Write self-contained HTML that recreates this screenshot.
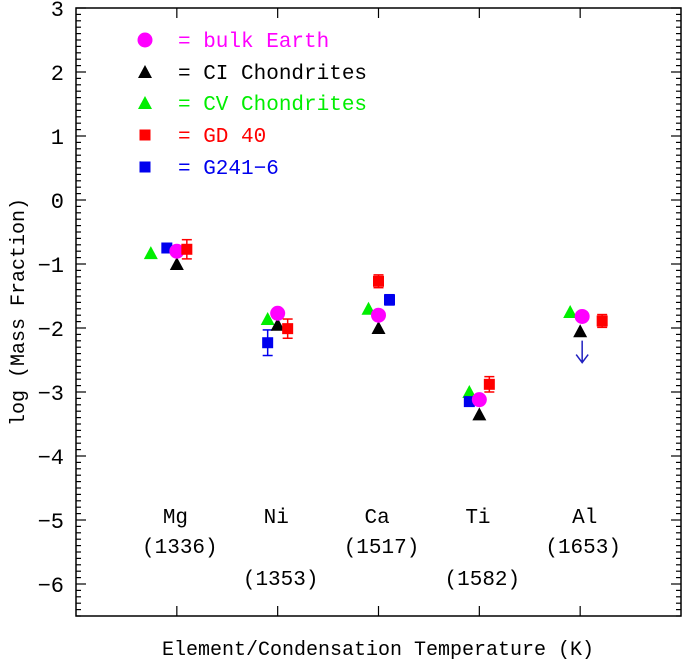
<!DOCTYPE html>
<html><head><meta charset="utf-8"><style>
html,body{margin:0;padding:0;background:#fff;width:686px;height:661px;overflow:hidden}
svg text{font-family:"Liberation Mono",monospace}
</style></head><body>
<svg id="chart" width="686" height="661" xmlns="http://www.w3.org/2000/svg"></svg>
<script>
const elements=["Mg","Ni","Ca","Ti","Al"];
const temps=["(1336)","(1353)","(1517)","(1582)","(1653)"];
const earth=[-0.80,-1.77,-1.80,-3.12,-1.82];
const ci=[-1.00,-1.95,-2.00,-3.35,-2.05];
const cv=[-0.83,-1.86,-1.70,-3.00,-1.75];
const gd40=[-0.77,-2.01,-1.27,-2.88,-1.89];
const gd40Err=[0.15,0.15,0.10,0.12,0.10];
const g241=[-0.75,-2.23,-1.56,-3.15,null];
const g241Err=[0.05,0.20,0.08,0.05,0];
const g241Limit=[null,null,null,null,-2.15];
const yTicks=[3,2,1,0,-1,-2,-3,-4,-5,-6];

const svg=document.getElementById('chart');
const NS="http://www.w3.org/2000/svg";
const L=76,R=681,T=8,B=616;
function X(i){return L+(i+1)*(R-L)/6;}
function Y(v){return T+(3-v)*(B-T)/9.5;}
function mk(tag,attrs,parent){const e=document.createElementNS(NS,tag);for(const k in attrs)e.setAttribute(k,attrs[k]);(parent||svg).appendChild(e);return e;}

const frame=mk('rect',{x:L,y:T,width:R-L,height:B-T,fill:'none',stroke:'#000','stroke-width':1.5});


for(let k=0;k<=95;k++){const v=3-k*0.1;const y=Y(v);const major=k%10===0;const len=major?10:5;
 mk('line',{x1:L,x2:L+len,y1:y,y2:y,stroke:'#000','stroke-width':1.2});
 mk('line',{x1:R,x2:R-len,y1:y,y2:y,stroke:'#000','stroke-width':1.2});}
yTicks.forEach(v=>{const t=mk('text',{x:L-12,y:Y(v)+8,'text-anchor':'end','font-size':22,fill:'#000'});t.textContent=v<0?'\u2212'+(-v):String(v);
 
 });
elements.forEach((e,i)=>{const x=X(i);mk('line',{x1:x,x2:x,y1:T,y2:T+10,stroke:'#000','stroke-width':1.2});mk('line',{x1:x,x2:x,y1:B,y2:B-10,stroke:'#000','stroke-width':1.2});
 const t1=mk('text',{x:x-14+(i==4?6:0),y:523,'font-size':21,fill:'#000'});t1.textContent=e;
 
 
 const low=(i==1||i==3);
 const t2=mk('text',{x:x+3,y:low?585:553,'text-anchor':'middle','font-size':21,fill:'#000'});t2.textContent=temps[i];
 
 });
const yl=mk('text',{x:0,y:0,transform:'translate(24,312) rotate(-90)','text-anchor':'middle','font-size':20,fill:'#000'});yl.textContent='log (Mass Fraction)';


const xl=mk('text',{x:378,y:655,'text-anchor':'middle','font-size':20,fill:'#000'});xl.textContent='Element/Condensation Temperature (K)';



function tri(x,y,c){return mk('polygon',{points:`${x},${y-7} ${x-7},${y+6} ${x+7},${y+6}`,fill:c});}
function sq(x,y,c){return mk('rect',{x:x-5.5,y:y-5.5,width:11,height:11,fill:c});}
function circ(x,y,c){return mk('circle',{cx:x,cy:y,r:7.5,fill:c});}
function err(x,v,e,c){const y1=Y(v+e),y2=Y(v-e);mk('line',{x1:x,x2:x,y1:y1,y2:y2,stroke:c,'stroke-width':1.5});mk('line',{x1:x-5,x2:x+5,y1:y1,y2:y1,stroke:c,'stroke-width':1.5});mk('line',{x1:x-5,x2:x+5,y1:y2,y2:y2,stroke:c,'stroke-width':1.5});}

elements.forEach((e,i)=>{const x=X(i);
 let m=tri(x-(i==0?26:10),Y(cv[i]),'#00ee00');
 if(g241[i]!==null){const bx=x+(i==2?11:-10);err(bx,g241[i],g241Err[i],'#0000ee');
  m=sq(bx,Y(g241[i]),'#0000ee');}
 m=tri(x,Y(ci[i]),'#000');
 m=circ(x+(i==4?2:0),Y(earth[i]),'#ff00ff');
 const rx=x+(i==4?22:(i==2?0:10));err(rx,gd40[i],gd40Err[i],'#ff0000');
 m=sq(rx,Y(gd40[i]),'#ff0000');
 if(g241Limit[i]!==null){const ax=x+2,y0=Y(g241Limit[i])+3,y1=y0+22;
  const a=mk('path',{d:`M${ax},${y0}L${ax},${y1}M${ax-6},${y1-8}L${ax},${y1}L${ax+6},${y1-8}`,stroke:'#2020c0','stroke-width':1.5,fill:'none'});
  
  }
});
const leg=[['circ','#ff00ff','= bulk Earth'],['tri','#000','= CI Chondrites'],['tri','#00ee00','= CV Chondrites'],['sq','#ff0000','= GD 40'],['sq','#0000ee','= G241\u22126']];
const ly=[40,72,103,135,167];
leg.forEach((l,k)=>{const f=l[0]=='circ'?circ:l[0]=='tri'?tri:sq;const m=f(145,ly[k],l[1]);
 
 
 const t=mk('text',{x:178,y:ly[k]+7,'font-size':21,fill:l[1]});t.textContent=l[2];
 
 });
</script>
</body></html>
